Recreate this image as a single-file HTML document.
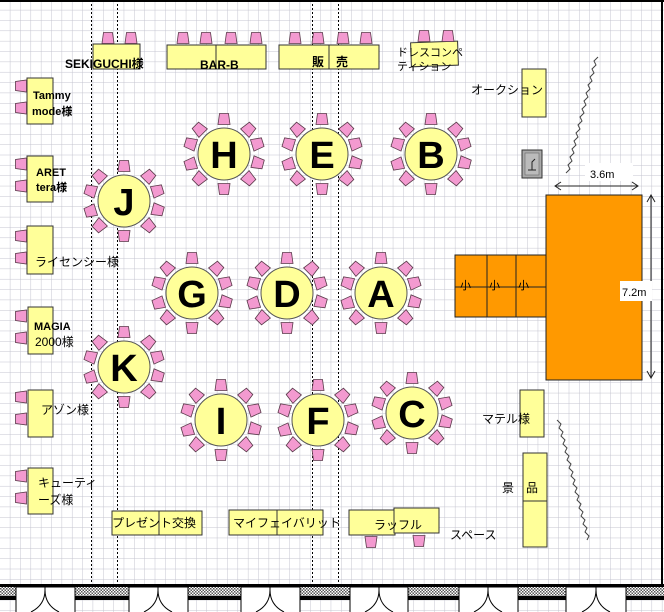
<!DOCTYPE html>
<html><head><meta charset="utf-8"><style>
html,body{margin:0;padding:0;background:#fff}
svg{display:block}
text{font-family:"Liberation Sans","Noto Sans CJK JP",sans-serif}
.lb{font-size:12px;fill:#000}
.tl{font-size:38px;font-weight:bold;fill:#000;text-anchor:middle}
</style></head><body>
<svg width="664" height="612" viewBox="0 0 664 612" xmlns="http://www.w3.org/2000/svg">
<defs>
<pattern id="g" width="10.35" height="10.35" patternUnits="userSpaceOnUse">
<path d="M10.35 0V10.35H0" fill="none" stroke="#c4c4cf" stroke-width="1"/>
</pattern>
<pattern id="h" width="3" height="3" patternUnits="userSpaceOnUse">
<rect width="3" height="3" fill="#fff"/><rect width="1.5" height="1.5" fill="#555"/><rect x="1.5" y="1.5" width="1.5" height="1.5" fill="#555"/>
</pattern>
<g id="ch"><polygon points="-4.5,-5.5 4.5,-5.5 6,5.5 -6,5.5" fill="#f39ad0" stroke="#5a3a4a" stroke-width="0.8"/></g>
<g id="rt">
<use href="#ch" transform="rotate(0) translate(0,-35)"/>
<use href="#ch" transform="rotate(-45) translate(0,-35)"/>
<use href="#ch" transform="rotate(45) translate(0,-35)"/>
<use href="#ch" transform="rotate(73) translate(0,-35)"/>
<use href="#ch" transform="rotate(105) translate(0,-35)"/>
<use href="#ch" transform="rotate(135) translate(0,-35)"/>
<use href="#ch" transform="rotate(180) translate(0,-35)"/>
<use href="#ch" transform="rotate(225) translate(0,-35)"/>
<use href="#ch" transform="rotate(253) translate(0,-35)"/>
<use href="#ch" transform="rotate(287) translate(0,-35)"/>
<circle r="26" fill="#ffff99" stroke="#555" stroke-width="1"/>
</g>
</defs>
<rect width="664" height="612" fill="url(#g)"/>
<rect x="0" y="0" width="664" height="2" fill="#000"/>
<rect x="661" y="0" width="2" height="584" fill="#000"/>

<g stroke="#000" stroke-width="1" stroke-dasharray="2,2">
<line x1="91.5" y1="0" x2="91.5" y2="584"/><line x1="117.5" y1="0" x2="117.5" y2="584"/>
<line x1="312.5" y1="0" x2="312.5" y2="584"/><line x1="338.5" y1="0" x2="338.5" y2="584"/>
</g>

<g fill="#ffff99" stroke="#333" stroke-width="1">
<rect x="93" y="44" width="47" height="25"/>
<rect x="167" y="45" width="49" height="24"/><rect x="216" y="45" width="50" height="24"/>
<rect x="279" y="45" width="50" height="24"/><rect x="329" y="45" width="50" height="24"/>
<rect x="411" y="42" width="47" height="24" transform="rotate(-2 434 54)"/>
<rect x="522" y="69" width="24" height="48"/>
<rect x="27" y="78" width="26" height="46"/>
<rect x="27" y="156" width="26" height="46"/>
<rect x="27" y="226" width="26" height="48"/>
<rect x="28" y="307" width="25" height="47"/>
<rect x="28" y="390" width="25" height="47"/>
<rect x="28" y="468" width="25" height="46"/>
<rect x="520" y="390" width="24" height="47"/>
<rect x="523" y="453" width="24" height="48"/><rect x="523" y="501" width="24" height="46"/>
<rect x="112" y="511" width="47" height="24"/><rect x="159" y="511" width="43" height="24"/>
<rect x="229" y="510" width="48" height="25"/><rect x="277" y="510" width="46" height="25"/>
<rect x="349" y="510" width="46" height="25"/><rect x="394" y="508" width="45" height="25"/>
</g>
<g>
<use href="#ch" x="108" y="38"/><use href="#ch" x="131" y="38"/>
<use href="#ch" x="183" y="38"/><use href="#ch" x="206" y="38"/><use href="#ch" x="231" y="38"/><use href="#ch" x="256" y="38"/>
<use href="#ch" x="295" y="38"/><use href="#ch" x="318" y="38"/><use href="#ch" x="343" y="38"/><use href="#ch" x="366" y="38"/>
<use href="#ch" x="424" y="36"/><use href="#ch" x="448" y="36"/>
<use href="#ch" transform="translate(371,542) rotate(180)"/><use href="#ch" transform="translate(419,541) rotate(180)"/>
</g>
<g>
<use href="#ch" transform="translate(21,86) rotate(-90)"/><use href="#ch" transform="translate(21,108) rotate(-90)"/>
<use href="#ch" transform="translate(21,164) rotate(-90)"/><use href="#ch" transform="translate(21,186) rotate(-90)"/>
<use href="#ch" transform="translate(21,236) rotate(-90)"/><use href="#ch" transform="translate(21,258) rotate(-90)"/>
<use href="#ch" transform="translate(21,316) rotate(-90)"/><use href="#ch" transform="translate(21,338) rotate(-90)"/>
<use href="#ch" transform="translate(21,397) rotate(-90)"/><use href="#ch" transform="translate(21,419) rotate(-90)"/>
<use href="#ch" transform="translate(21,476) rotate(-90)"/><use href="#ch" transform="translate(21,498) rotate(-90)"/>
</g>

<use href="#rt" x="224" y="154"/><text class="tl" x="224" y="168">H</text>
<use href="#rt" x="322" y="154"/><text class="tl" x="322" y="168">E</text>
<use href="#rt" x="431" y="154"/><text class="tl" x="431" y="168">B</text>
<use href="#rt" x="124" y="201"/><text class="tl" x="124" y="215">J</text>
<use href="#rt" x="192" y="293"/><text class="tl" x="192" y="307">G</text>
<use href="#rt" x="287" y="293"/><text class="tl" x="287" y="307">D</text>
<use href="#rt" x="381" y="293"/><text class="tl" x="381" y="307">A</text>
<use href="#rt" x="124" y="367"/><text class="tl" x="124" y="381">K</text>
<use href="#rt" x="221" y="420"/><text class="tl" x="221" y="434">I</text>
<use href="#rt" x="318" y="420"/><text class="tl" x="318" y="434">F</text>
<use href="#rt" x="412" y="413"/><text class="tl" x="412" y="427">C</text>

<g class="lb">
<text x="65" y="68" font-weight="bold">SEKIGUCHI様</text>
<text x="200" y="69" font-weight="bold">BAR-B</text>
<text x="312" y="66" font-weight="bold">販　売</text>
<text x="397" y="56" font-size="11">ドレスコンペ</text>
<text x="397" y="70" font-size="11">ティション</text>
<text x="471" y="94">オークション</text>
<text x="33" y="99" font-weight="bold" font-size="11">Tammy</text>
<text x="32" y="115" font-weight="bold" font-size="11">mode様</text>
<text x="36" y="176" font-weight="bold" font-size="11">ARET</text>
<text x="36" y="191" font-weight="bold" font-size="11">tera様</text>
<text x="35" y="266">ライセンシー様</text>
<text x="34" y="330" font-weight="bold" font-size="11">MAGIA</text>
<text x="35" y="346" font-size="12">2000様</text>
<text x="41" y="414">アゾン様</text>
<text x="38" y="487">キューティ</text>
<text x="38" y="504">ーズ様</text>
<text x="112" y="527">プレゼント交換</text>
<text x="233" y="527">マイフェイバリット</text>
<text x="374" y="529">ラッフル</text>
<text x="450" y="539">スペース</text>
<text x="482" y="423">マテル様</text>
<text x="502" y="492">景</text><text x="526" y="492">品</text>
</g>

<rect x="522" y="150" width="20" height="28" fill="#aaa" stroke="#333"/>
<rect x="525" y="153" width="14" height="22" fill="#bbb" stroke="#666" stroke-width="0.6"/>
<path d="M528 170h8M532 170v-8l3-3" stroke="#222" fill="none"/>

<path d="M598 57 l-4 4 l2 4 l-4 4 l2 4 l-4 4 l2 4 l-4 4 l2 4 l-4 4 l2 4 l-4 4 l2 4 l-4 4 l2 4 l-4 4 l2 4 l-4 4 l2 4 l-4 4 l2 4 l-4 4 l2 4 l-4 4 l2 4 l-4 4 l2 4 l-4 4 l2 4 l-4 4" stroke="#444" fill="none" stroke-width="1"/>
<path d="M557 420 l4 4 l-2 4 l4 4 l-2 4 l4 4 l-2 4 l4 4 l-2 4 l4 4 l-2 4 l4 4 l-2 4 l4 4 l-2 4 l4 4 l-2 4 l4 4 l-2 4 l4 4 l-2 4 l4 4 l-2 4 l4 4 l-2 4 l4 4 l-2 4 l4 4 l-2 4 l4 4 l-2 4" stroke="#444" fill="none" stroke-width="1"/>

<rect x="455" y="255" width="91" height="62" fill="#ff9900" stroke="#222"/>
<path d="M487 255v62M516 255v62M455 287h91" stroke="#222" fill="none"/>
<text x="460" y="289" font-size="11">小</text><text x="489" y="289" font-size="11">小</text><text x="518" y="289" font-size="11">小</text>
<rect x="546" y="195" width="96" height="185" fill="#ff9900" stroke="#222"/>
<rect x="585" y="163" width="48" height="18" fill="#fff"/>
<text x="590" y="178" font-size="11">3.6m</text>
<path d="M555 186 L638 186 M561 182 L555 186 L561 190 M632 182 L638 186 L632 190" stroke="#222" fill="none"/>
<path d="M651 195 L651 378 M647 202 L651 195 L655 202 M647 371 L651 378 L655 371" stroke="#222" fill="none"/>
<rect x="620" y="281" width="32" height="20" fill="#fff"/>
<text x="622" y="296" font-size="11">7.2m</text>

<rect x="0" y="584" width="664" height="3" fill="#000"/>
<rect x="0" y="587" width="664" height="9" fill="url(#h)"/>
<rect x="0" y="596" width="664" height="4" fill="#000"/>
<g fill="#fff" stroke="#000" stroke-width="1">
<rect x="16" y="587" width="59" height="26"/><rect x="129" y="587" width="59" height="26"/>
<rect x="241" y="587" width="59" height="26"/><rect x="350" y="587" width="58" height="26"/>
<rect x="459" y="587" width="59" height="26"/><rect x="566" y="587" width="60" height="26"/>
</g>
<g stroke="#000" fill="none" stroke-width="1">
<path d="M45 590 Q45 605 31 612 M45 590 Q45 605 59 612 M45 587v3"/>
<path d="M158 590 Q158 605 144 612 M158 590 Q158 605 172 612 M158 587v3"/>
<path d="M270 590 Q270 605 256 612 M270 590 Q270 605 284 612 M270 587v3"/>
<path d="M379 590 Q379 605 365 612 M379 590 Q379 605 393 612 M379 587v3"/>
<path d="M488 590 Q488 605 474 612 M488 590 Q488 605 502 612 M488 587v3"/>
<path d="M596 590 Q596 605 582 612 M596 590 Q596 605 610 612 M596 587v3"/>
</g>
</svg>
</body></html>
